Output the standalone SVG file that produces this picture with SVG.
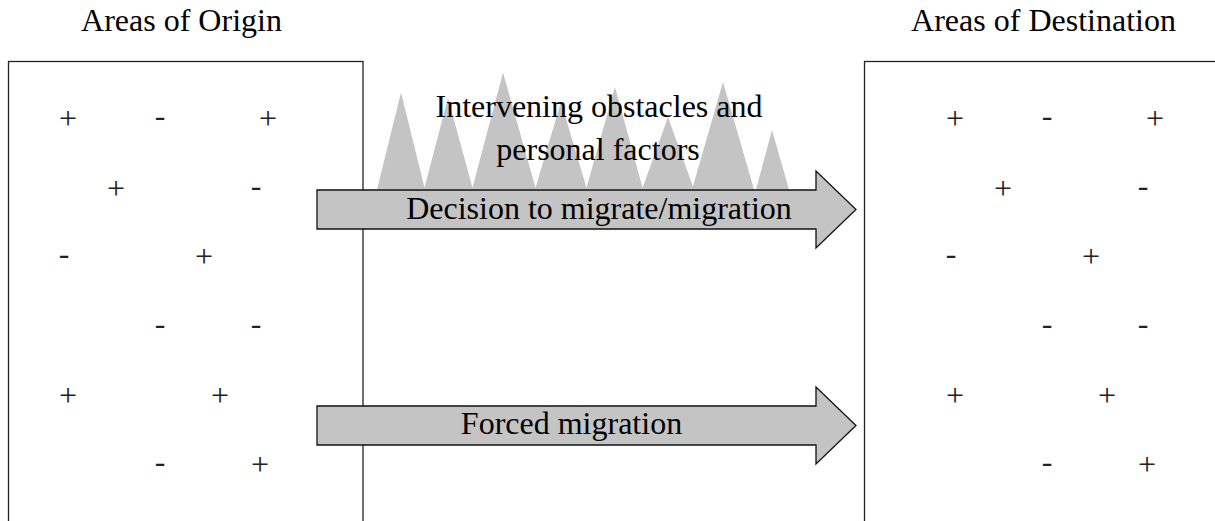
<svg xmlns="http://www.w3.org/2000/svg" width="1215" height="521" viewBox="0 0 1215 521">
<style>
text{font-family:"Liberation Serif","Times New Roman",serif;font-size:32px;fill:#000}
.p,.n{fill:#222;text-anchor:middle}
.box{fill:none;stroke:#222;stroke-width:1.3}
.arrow{fill:#c4c4c4;stroke:#111;stroke-width:1.3}
.tri{fill:#c4c4c4}
.m{text-anchor:middle}
</style>
<rect width="1215" height="521" fill="#fff"/>
<g id="origin">
<rect class="box" x="8.5" y="61.5" width="354.5" height="480"/>
<text class="m" x="181.5" y="31">Areas of Origin</text>
<g>
<text class="p" x="68" y="129">+</text><text class="n" x="160" y="126">-</text><text class="p" x="268" y="129">+</text>
<text class="p" x="116" y="199">+</text><text class="n" x="256" y="196">-</text>
<text class="n" x="64" y="264">-</text><text class="p" x="204" y="267">+</text>
<text class="n" x="160" y="334">-</text><text class="n" x="256" y="334">-</text>
<text class="p" x="68" y="406">+</text><text class="p" x="220" y="406">+</text>
<text class="n" x="160" y="472">-</text><text class="p" x="260" y="475">+</text>
</g>
</g>
<g id="destination">
<rect class="box" x="864.5" y="61.5" width="400" height="480"/>
<text class="m" x="1043.5" y="31">Areas of Destination</text>
<g transform="translate(887 0)">
<text class="p" x="68" y="129">+</text><text class="n" x="160" y="126">-</text><text class="p" x="268" y="129">+</text>
<text class="p" x="116" y="199">+</text><text class="n" x="256" y="196">-</text>
<text class="n" x="64" y="264">-</text><text class="p" x="204" y="267">+</text>
<text class="n" x="160" y="334">-</text><text class="n" x="256" y="334">-</text>
<text class="p" x="68" y="406">+</text><text class="p" x="220" y="406">+</text>
<text class="n" x="160" y="472">-</text><text class="p" x="260" y="475">+</text>
</g>
</g>
<g id="obstacles">
<polygon class="tri" points="377,189.5 401,92.5 425,189.5"/>
<polygon class="tri" points="424,189.5 448,98 473,189.5"/>
<polygon class="tri" points="472,189.5 503,72.5 536,189.5"/>
<polygon class="tri" points="535,189.5 561,102 587,189.5"/>
<polygon class="tri" points="586,189.5 615,87 643,189.5"/>
<polygon class="tri" points="642,189.5 668,117 694,189.5"/>
<polygon class="tri" points="692,189.5 723,82 754,189.5"/>
<polygon class="tri" points="756,189.5 772,130 789,189.5"/>
<text class="m" x="599" y="117">Intervening obstacles and</text>
<text class="m" x="598" y="160">personal factors</text>
</g>
<g id="connectors">
<g id="voluntary">
<path class="arrow" d="M317,190 H816 V171 L856,209.5 L816,248 V229 H317 Z"/>
<text class="m" x="599" y="219">Decision to migrate/migration</text>
</g>
<g id="forced">
<path class="arrow" d="M317,406 H816 V387 L856,425.5 L816,464 V445 H317 Z"/>
<text class="m" x="571.5" y="434">Forced migration</text>
</g>
</g>
</svg>
